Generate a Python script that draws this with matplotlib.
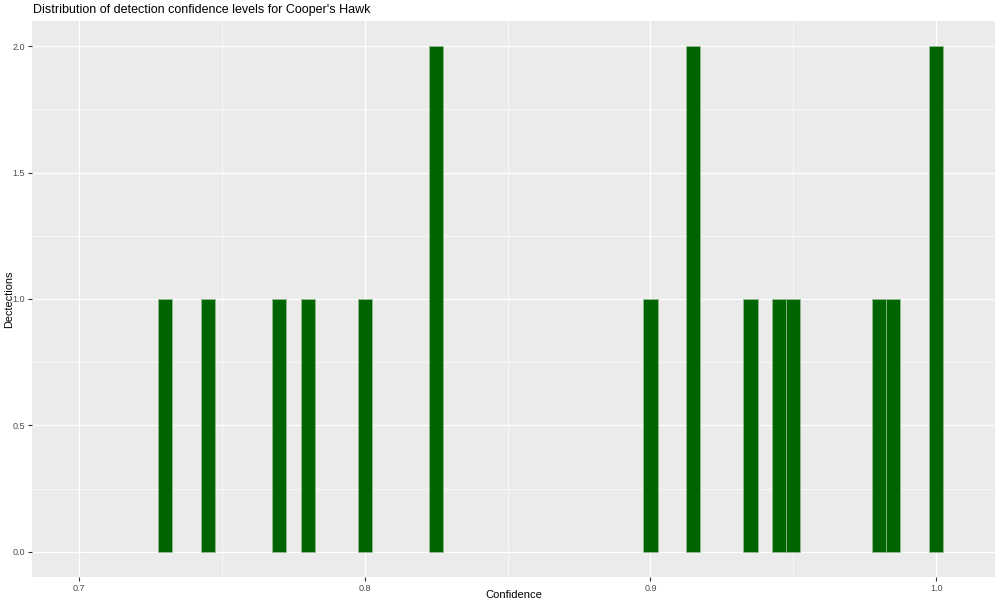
import matplotlib
matplotlib.use("Agg")
import matplotlib.pyplot as plt

confidence = [0.730, 0.745, 0.770, 0.780, 0.800, 0.825, 0.900, 0.915,
              0.935, 0.945, 0.950, 0.980, 0.985, 1.000]
detections = [1, 1, 1, 1, 1, 2, 1, 2, 1, 1, 1, 1, 1, 2]
binwidth = 0.005
x_ticks = [0.7, 0.8, 0.9, 1.0]
x_labels = ["0.7", "0.8", "0.9", "1.0"]
y_ticks = [0.0, 0.5, 1.0, 1.5, 2.0]
y_labels = ["0.0", "0.5", "1.0", "1.5", "2.0"]

plt.rcParams['font.family'] = ['Liberation Sans', 'DejaVu Sans']
fig = plt.figure(figsize=(10, 6.06), dpi=100)
ax = fig.add_axes([0.032, 29/606, 0.963, 556/606])
ax.set_facecolor("#EBEBEB")
ax.set_xlim(0.6835, 1.0206)
ax.set_ylim(-0.1, 2.1)

for v in [0.75, 0.85, 0.95]:
    ax.axvline(v, color="white", lw=0.45, zorder=0)
for v in [0.25, 0.75, 1.25, 1.75]:
    ax.axhline(v, color="white", lw=0.45, zorder=0)
for v in x_ticks:
    ax.axvline(v, color="white", lw=0.9, zorder=0)
for v in y_ticks:
    ax.axhline(v, color="white", lw=0.9, zorder=0)

ax.bar(confidence, detections, width=binwidth, color="#006400",
       edgecolor="#9ABF9A", linewidth=0.5, zorder=2)

ax.set_xticks(x_ticks)
ax.set_xticklabels(x_labels)
ax.set_yticks(y_ticks)
ax.set_yticklabels(y_labels)
ax.tick_params(axis="both", length=2.7, width=0.8, color="#333333",
               labelsize=6.5, labelcolor="#4D4D4D", pad=2.5)
for s in ax.spines.values():
    s.set_visible(False)

fig.text(0.5135, 1 - 595/606, "Confidence", fontsize=8, ha="center", va="center")
fig.text(0.009, 1 - 299/606, "Dectections", fontsize=7.8, ha="center", va="center",
         rotation=90)
fig.text(0.033, 1 - 10/606, "Distribution of detection confidence levels for Cooper's Hawk",
         fontsize=9, ha="left", va="center")

fig.savefig("out.png", dpi=100)
